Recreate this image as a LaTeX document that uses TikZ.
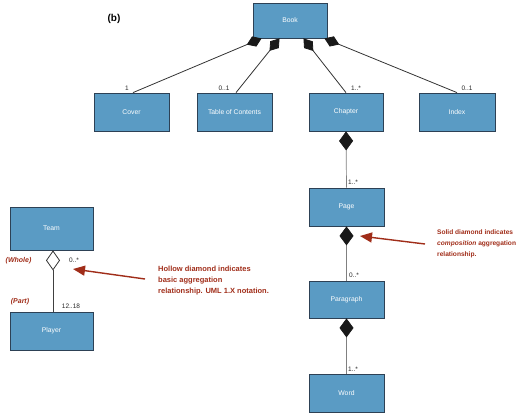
\documentclass[tikz,border=0pt]{standalone}
\usepackage{fontspec}
\setmainfont{Liberation Sans}
\usetikzlibrary{arrows.meta,calc}
\definecolor{boxfill}{RGB}{90,155,196}
\definecolor{boxline}{RGB}{45,65,85}
\definecolor{notered}{RGB}{160,45,25}
\begin{document}
\begin{tikzpicture}[x=1pt,y=-1pt,
  cls/.style={draw=boxline,line width=0.8pt,fill=boxfill,text=white,minimum width=75pt,minimum height=38pt,inner sep=0pt,font=\fontsize{6.8}{7}\selectfont},
  mult/.style={font=\fontsize{6.5}{7}\selectfont,inner sep=0pt,text=black!85},
  role/.style={font=\fontsize{7}{8}\selectfont\bfseries\itshape,inner sep=0pt,text=notered},
  notetext/.style={font=\fontsize{7.5}{11}\selectfont\bfseries,inner sep=0pt,text=notered,align=left,anchor=west},
  comp/.style={{Diamond[length=16pt,width=11pt,fill=black!90,color=black!90]}-,draw=black!80,line width=0.8pt},
  compv/.style={{Diamond[length=19pt,width=14pt,fill=black!90,color=black!90]}-,draw=black!50,line width=0.7pt},
  aggv/.style={{Diamond[open,length=20pt,width=14pt,color=black!80]}-,draw=black!75,line width=0.8pt},
  pointer/.style={draw=notered,line width=1.4pt,-{Triangle[length=12pt,width=10pt]}}]
\useasboundingbox (0,0) rectangle (529,415);

% classes
\node[cls,minimum width=74pt,minimum height=35pt] (book) at (290,20.5) {Book};
\node[cls] (cover) at (131.5,112) {Cover};
\node[cls] (toc) at (234.5,112) {Table of Contents};
\node[cls,minimum width=74pt] (chapter) at (346,112) {Chapter};
\node[cls,minimum width=76pt] (index) at (457,112) {Index};
\node[cls] (page) at (346.5,207) {Page};
\node[cls,minimum height=37pt] (paragraph) at (346.5,299.5) {Paragraph};
\node[cls] (word) at (346.5,393) {Word};
\node[cls,minimum width=83pt,minimum height=43pt] (team) at (51.5,228.5) {Team};
\node[cls,minimum width=83pt] (player) at (51.5,331) {Player};

\node[font=\fontsize{10}{12}\selectfont\bfseries,inner sep=0pt] (blabel) at (114,19) {(b)};

% composition from Book
\draw[comp] ($(book.south west)!0.12!(book.south east)$) -- ($(cover.north)+(1.5,0)$);
\draw[comp] ($(book.south west)!0.36!(book.south east)$) -- ($(toc.north)+(1.5,0)$);
\draw[comp] ($(book.south west)!0.68!(book.south east)$) -- (chapter.north);
\draw[comp] ($(book.south west)!0.96!(book.south east)$) -- (index.north);

\node[mult] (m1) at (127,88) {1};
\node[mult] (m2) at (224,88) {0..1};
\node[mult] (m3) at (356,88) {1..*};
\node[mult] (m4) at (467,88) {0..1};

% vertical compositions
\draw[compv] (chapter.south) -- (page.north);
\draw[compv] (page.south) -- (paragraph.north);
\draw[compv] (paragraph.south) -- (word.north);
\node[mult] (m5) at (353,182) {1..*};
\node[mult] (m6) at (354,275) {0..*};
\node[mult] (m7) at (353,369) {1..*};

% aggregation
\draw[aggv] ($(team.south)+(1.5,0)$) -- ($(player.north)+(1.5,0)$);
\node[mult] (m8) at (74,260) {0..*};
\node[mult] (m9) at (71,306) {12..18};
\node[role] (whole) at (18.5,261) {(Whole)};
\node[role] (part) at (20,302) {(Part)};

% notes
\node[notetext] (hollow) at (158,281) {Hollow diamond indicates\\basic aggregation\\relationship. UML 1.X notation.};
\coordinate (htail) at (145,279);
\coordinate (htip) at (73,269);
\draw[pointer] (htail) -- (htip);

\node[notetext,font=\fontsize{6.6}{11}\selectfont\bfseries] (solid) at (437,244) {Solid diamond indicates\\\textit{composition} aggregation\\relationship.};
\coordinate (stail) at (425,244);
\coordinate (stip) at (360,236);
\draw[pointer] (stail) -- (stip);
\end{tikzpicture}
\end{document}
